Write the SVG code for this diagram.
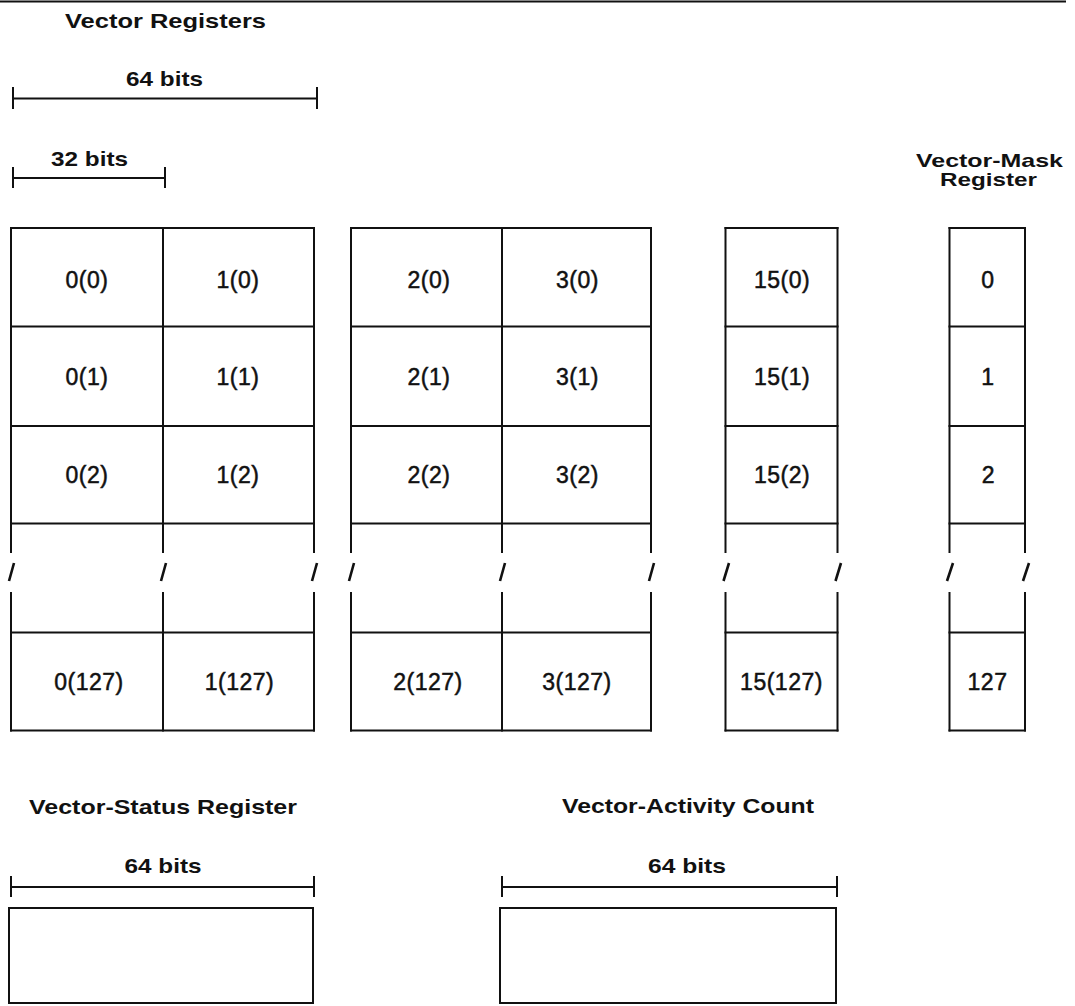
<svg xmlns="http://www.w3.org/2000/svg" width="1075" height="1006" viewBox="0 0 1075 1006">
<style>
  .ln { stroke: #111; stroke-width: 2; fill: none; stroke-linecap: square; }
  .box { stroke: #111; stroke-width: 2; fill: none; }
  .sl { stroke: #111; stroke-width: 2.6; stroke-linecap: butt; }
  .ttl { font-family: "Liberation Sans", Arial, sans-serif; font-size: 21px; font-weight: bold; fill: #111; text-anchor: middle; }
  .mt { font-family: "Liberation Sans", Arial, sans-serif; font-size: 19px; font-weight: bold; fill: #111; text-anchor: middle; }
  .cl { font-family: "Liberation Sans", Arial, sans-serif; font-size: 23px; letter-spacing: 0.5px; fill: #111; stroke: #111; stroke-width: 0.5; text-anchor: middle; }
</style>
<rect width="1075" height="1006" fill="#fff"/>
<line class="ln" x1="0" y1="1.5" x2="1065" y2="1.5"/>

<g id="title-vector-registers">
  <text class="ttl" x="165.5" y="28" textLength="201" lengthAdjust="spacingAndGlyphs">Vector Registers</text>
</g>

<g id="connectors">
  <!-- dimension: 64 bits (vector registers) -->
  <line class="ln" x1="13" y1="98.5" x2="317" y2="98.5"/>
  <line class="ln" x1="13" y1="88" x2="13" y2="108"/>
  <line class="ln" x1="317" y1="88" x2="317" y2="108"/>
  <!-- dimension: 32 bits -->
  <line class="ln" x1="13" y1="178" x2="165" y2="178"/>
  <line class="ln" x1="13" y1="168" x2="13" y2="187"/>
  <line class="ln" x1="165" y1="168" x2="165" y2="187"/>
  <!-- dimension: 64 bits (status) -->
  <line class="ln" x1="11" y1="887" x2="314" y2="887"/>
  <line class="ln" x1="11" y1="877" x2="11" y2="896"/>
  <line class="ln" x1="314" y1="877" x2="314" y2="896"/>
  <!-- dimension: 64 bits (activity) -->
  <line class="ln" x1="502" y1="887" x2="837" y2="887"/>
  <line class="ln" x1="502" y1="877" x2="502" y2="896"/>
  <line class="ln" x1="837" y1="877" x2="837" y2="896"/>
</g>

<g id="dim-labels">
  <text class="ttl" x="164.5" y="86" textLength="77" lengthAdjust="spacingAndGlyphs">64 bits</text>
  <text class="ttl" x="89.5" y="165.5" textLength="77" lengthAdjust="spacingAndGlyphs">32 bits</text>
  <text class="ttl" x="163" y="873" textLength="77" lengthAdjust="spacingAndGlyphs">64 bits</text>
  <text class="ttl" x="687" y="873" textLength="78" lengthAdjust="spacingAndGlyphs">64 bits</text>
</g>

<g id="regs-0-1">
  <path class="ln" d="M11 228 H314 M11 326.5 H314 M11 426 H314 M11 523.5 H314 M11 632.5 H314 M11 730.5 H314"/>
  <path class="ln" d="M11 228 V552 M163 228 V552 M314 228 V552 M11 593 V730.5 M163 593 V730.5 M314 593 V730.5"/>
  <path class="sl" d="M14 563 L9 581 M166 563 L161 581 M317 563 L312 581"/>
  <text class="cl" x="87" y="288">0(0)</text>
  <text class="cl" x="238" y="288">1(0)</text>
  <text class="cl" x="87" y="385">0(1)</text>
  <text class="cl" x="238" y="385">1(1)</text>
  <text class="cl" x="87" y="483">0(2)</text>
  <text class="cl" x="238" y="483">1(2)</text>
  <text class="cl" x="89" y="690">0(127)</text>
  <text class="cl" x="239.5" y="690">1(127)</text>
</g>

<g id="regs-2-3">
  <path class="ln" d="M351 228 H651 M351 326.5 H651 M351 426 H651 M351 523.5 H651 M351 632.5 H651 M351 730.5 H651"/>
  <path class="ln" d="M351 228 V552 M502 228 V552 M651 228 V552 M351 593 V730.5 M502 593 V730.5 M651 593 V730.5"/>
  <path class="sl" d="M354 563 L349 581 M505 563 L500 581 M654 563 L649 581"/>
  <text class="cl" x="429" y="288">2(0)</text>
  <text class="cl" x="577.5" y="288">3(0)</text>
  <text class="cl" x="429" y="385">2(1)</text>
  <text class="cl" x="577.5" y="385">3(1)</text>
  <text class="cl" x="429" y="483">2(2)</text>
  <text class="cl" x="577.5" y="483">3(2)</text>
  <text class="cl" x="428" y="690">2(127)</text>
  <text class="cl" x="577" y="690">3(127)</text>
</g>

<g id="reg-15">
  <path class="ln" d="M725.5 228 H837.5 M725.5 326.5 H837.5 M725.5 426 H837.5 M725.5 523.5 H837.5 M725.5 632.5 H837.5 M725.5 730.5 H837.5"/>
  <path class="ln" d="M725.5 228 V552 M837.5 228 V552 M725.5 593 V730.5 M837.5 593 V730.5"/>
  <path class="sl" d="M729 563 L723.5 581 M841 563 L835.5 581"/>
  <text class="cl" x="782" y="288">15(0)</text>
  <text class="cl" x="782" y="385">15(1)</text>
  <text class="cl" x="782" y="483">15(2)</text>
  <text class="cl" x="781.5" y="690">15(127)</text>
</g>

<g id="vector-mask-register">
  <text class="mt" x="989.5" y="167" textLength="147" lengthAdjust="spacingAndGlyphs">Vector-Mask</text>
  <text class="mt" x="988.5" y="186" textLength="97" lengthAdjust="spacingAndGlyphs">Register</text>
  <path class="ln" d="M949.5 228 H1025 M949.5 326.5 H1025 M949.5 426 H1025 M949.5 523.5 H1025 M949.5 632.5 H1025 M949.5 730.5 H1025"/>
  <path class="ln" d="M949.5 228 V552 M1025 228 V552 M949.5 593 V730.5 M1025 593 V730.5"/>
  <path class="sl" d="M953 563 L947 581 M1029 563 L1023 581"/>
  <text class="cl" x="988" y="288">0</text>
  <text class="cl" x="988" y="385">1</text>
  <text class="cl" x="988.5" y="483">2</text>
  <text class="cl" x="987.5" y="690">127</text>
</g>

<g id="vector-status-register">
  <text class="ttl" x="163" y="814" textLength="268" lengthAdjust="spacingAndGlyphs">Vector-Status Register</text>
  <rect class="box" x="9" y="908" width="304" height="95"/>
</g>

<g id="vector-activity-count">
  <text class="ttl" x="688" y="813" textLength="252" lengthAdjust="spacingAndGlyphs">Vector-Activity Count</text>
  <rect class="box" x="500" y="908" width="336" height="95"/>
</g>
</svg>
